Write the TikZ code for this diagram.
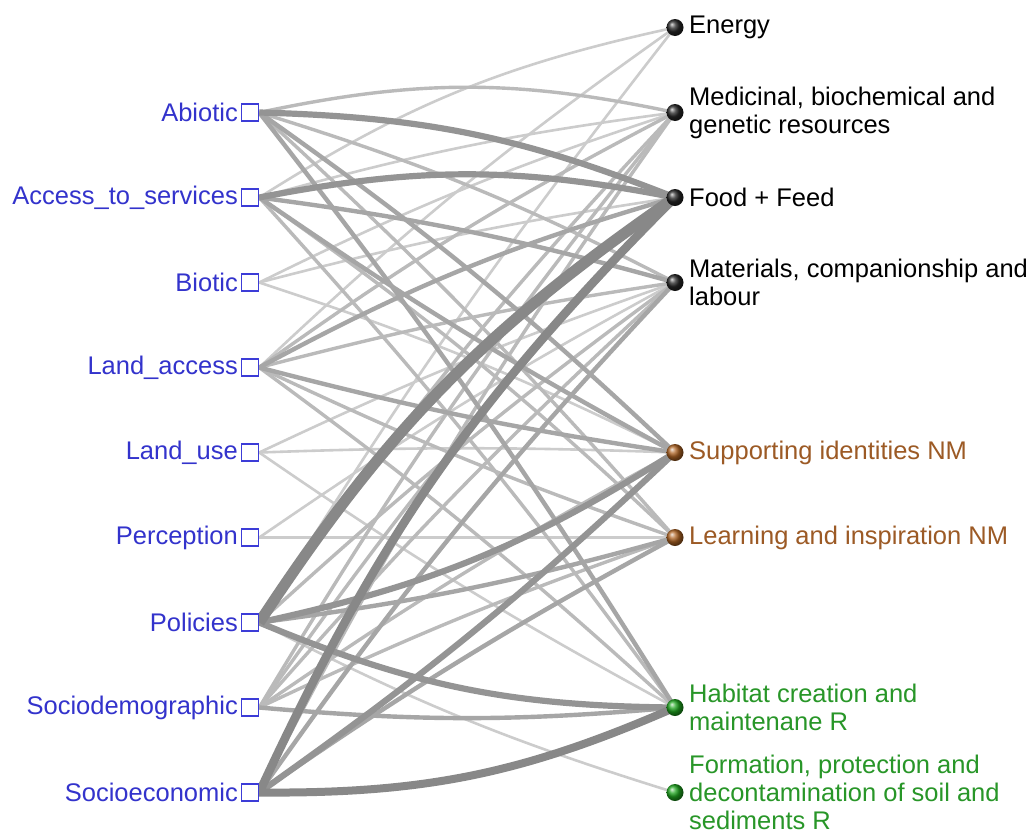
\documentclass[tikz,border=0pt]{standalone}
\usepackage{fontspec}
\setmainfont{Liberation Sans}
\pgfdeclarelayer{bgfill}
\pgfdeclarelayer{edges}
\pgfsetlayers{bgfill,edges,main}
\definecolor{lblue}{RGB}{51,51,204}
\definecolor{sqblue}{RGB}{60,60,215}
\definecolor{lbrown}{RGB}{156,90,37}
\definecolor{lgreen}{RGB}{40,150,40}
\definecolor{ballbrown}{RGB}{175,100,35}
\definecolor{ballgreen}{RGB}{30,165,30}
\definecolor{eA}{RGB}{204,204,204}
\definecolor{eB}{RGB}{186,186,186}
\definecolor{eC}{RGB}{166,166,166}
\definecolor{eD}{RGB}{148,148,148}
\definecolor{eE}{RGB}{136,136,136}
\begin{document}
\begin{tikzpicture}[x=1pt,y=-1pt,
  llab/.style={font=\fontsize{25.5}{28}\selectfont, text=lblue, inner sep=0pt, anchor=east},
  rlab/.style={font=\fontsize{25.5}{28}\selectfont, inner sep=0pt, anchor=west, align=left},
  sq/.style={draw=sqblue, fill=white, line width=1.5pt, minimum size=17pt, inner sep=0pt},
  ballnode/.style={circle, minimum size=17pt, inner sep=0pt},
  lt/.style={draw=eA, line width=2.6pt},
  md/.style={draw=eB, line width=3.4pt},
  hv/.style={draw=eC, line width=4.4pt},
  th/.style={draw=eD, line width=6.2pt},
  xt/.style={draw=eE, line width=8pt}]
\useasboundingbox (0,0) rectangle (1033,833);
\begin{pgfonlayer}{bgfill}
\fill[white] (0,0) rectangle (1033,833);
\end{pgfonlayer}

% left nodes
\node[sq] (Ab) at (250,112.5) {};
\node[sq] (Ac) at (250,197.5) {};
\node[sq] (Bi) at (250,282.5) {};
\node[sq] (LA) at (250,367.5) {};
\node[sq] (LU) at (250,452.5) {};
\node[sq] (Pe) at (250,537.5) {};
\node[sq] (Po) at (250,622.5) {};
\node[sq] (SD) at (250,707.5) {};
\node[sq] (SE) at (250,792.5) {};
\node[llab] (tAb) at (238,112.5) {Abiotic};
\node[llab] (tAc) at (238,197.5) {Access\_to\_services};
\node[llab] (tBi) at (238,282.5) {Biotic};
\node[llab] (tLA) at (238,367.5) {Land\_access};
\node[llab] (tLU) at (238,452.5) {Land\_use};
\node[llab] (tPe) at (238,537.5) {Perception};
\node[llab] (tPo) at (238,622.5) {Policies};
\node[llab] (tSD) at (238,707.5) {Sociodemographic};
\node[llab] (tSE) at (238,792.5) {Socioeconomic};

% right nodes
\node[ballnode, ball color=black!85] (En) at (675,27.5) {};
\node[ballnode, ball color=black!85] (Me) at (675,112.5) {};
\node[ballnode, ball color=black!85] (Fo) at (675,197.5) {};
\node[ballnode, ball color=black!85] (Ma) at (675,282.5) {};
\node[ballnode, ball color=ballbrown] (Su) at (675,452.5) {};
\node[ballnode, ball color=ballbrown] (Le) at (675,537.5) {};
\node[ballnode, ball color=ballgreen] (Ha) at (675,707.5) {};
\node[ballnode, ball color=ballgreen] (Fm) at (675,792.5) {};
\node[rlab] (tEn) at (689,27.5) {Energy};
\node[rlab] (tMe) at (689,112.5) {Medicinal, biochemical and\\genetic resources};
\node[rlab] (tFo) at (689,197.5) {Food + Feed};
\node[rlab] (tMa) at (689,282.5) {Materials, companionship and\\labour};
\node[rlab, text=lbrown] (tSu) at (689,452.5) {Supporting identities NM};
\node[rlab, text=lbrown] (tLe) at (689,537.5) {Learning and inspiration NM};
\node[rlab, text=lgreen] (tHa) at (689,707.5) {Habitat creation and\\maintenane R};
\node[rlab, text=lgreen] (tFm) at (689,792.5) {Formation, protection and\\decontamination of soil and\\sediments R};

\begin{pgfonlayer}{edges}
% light
\draw[lt] (Ac.east) to[bend left=10] (En.center);
\draw[lt] (LA.east) to[bend left=4] (En.center);
\draw[lt] (Po.east) to[bend left=3] (En.center);
\draw[lt] (Ac.east) to[bend left=4] (Me.center);
\draw[lt] (Bi.east) to[bend left=4] (Me.center);
\draw[lt] (Bi.east) to[bend left=3] (Fo.center);
\draw[lt] (Bi.east) to[bend left=4] (Su.center);
\draw[lt] (LU.east) to[bend left=3] (Ma.center);
\draw[lt] (LU.east) to[bend left=2] (Su.center);
\draw[lt] (LU.east) to[bend right=3] (Ha.center);
\draw[lt] (Pe.east) to (Le.center);
\draw[lt] (Pe.east) to[bend left=3] (Ma.center);
\draw[lt] (Po.east) to[bend right=5] (Fm.center);
% medium
\draw[md] (Ab.east) to[bend left=12] (Me.center);
\draw[md] (Ab.east) to[bend left=5] (Ma.center);
\draw[md] (Ab.east) to[bend left=3] (Le.center);
\draw[md] (Ac.east) to[bend left=3] (Ha.center);
\draw[md] (Ac.east) to[bend left=4] (Le.center);
\draw[md] (LA.east) to[bend left=4] (Me.center);
\draw[md] (LA.east) to[bend left=3] (Ma.center);
\draw[md] (LA.east) to[bend right=3] (Le.center);
\draw[md] (LA.east) to[bend left=3] (Ha.center);
\draw[md] (SD.east) to[bend left=4] (Me.center);
\draw[md] (SD.east) to[bend left=4] (Fo.center);
\draw[md] (SD.east) to[bend left=3] (Ma.center);
\draw[md] (SD.east) to[bend left=3] (Su.center);
\draw[md] (SD.east) to[bend left=3] (Le.center);
\draw[md] (Po.east) to[bend left=4] (Me.center);
\draw[md] (Po.east) to[bend left=3] (Ma.center);
\draw[md] (SE.east) to[bend left=4] (Me.center);
% heavy
\draw[hv] (Ab.east) to[bend left=4] (Su.center);
\draw[hv] (Ab.east) to[bend left=3] (Ha.center);
\draw[hv] (Ac.east) to[bend left=4] (Ma.center);
\draw[hv] (Ac.east) to[bend right=3] (Su.center);
\draw[hv] (LA.east) to[bend left=6] (Fo.center);
\draw[hv] (LA.east) to[bend right=3] (Su.center);
\draw[hv] (SD.east) to[bend right=5] (Ha.center);
\draw[hv] (Po.east) to[bend right=4] (Le.center);
\draw[hv] (SE.east) to[bend left=3] (Le.center);
\draw[hv] (SE.east) to[bend left=4] (Ma.center);
% thick
\draw[th] (Ab.east) to[bend left=10] (Fo.center);
\draw[th] (Po.east) to[bend right=10] (Su.center);
\draw[th] (Po.east) to[bend right=11] (Ha.center);
\draw[th] (SE.east) to[bend right=4] (Su.center);
\draw[th] (Ac.east) to[bend left=11] (Fo.center);
% extra thick
\draw[xt] (SE.east) to[bend right=12] (Ha.center);
\draw[xt, line width=8.5pt] (SE.east) to[bend left=10] (Fo.center);
\draw[xt, line width=11pt] (Po.east) to[bend left=11] (Fo.center);
\end{pgfonlayer}
\end{tikzpicture}
\end{document}
